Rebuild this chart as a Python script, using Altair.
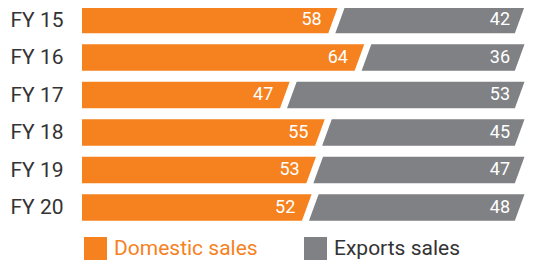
import altair as alt
import pandas as pd

years = ["FY 15", "FY 16", "FY 17", "FY 18", "FY 19", "FY 20"]
domestic = [58, 64, 47, 55, 53, 52]
exports = [42, 36, 53, 45, 47, 48]
series_names = ["Domestic sales", "Exports sales"]
colors = ["#F5821F", "#808184"]

HALF = 0.353   # half bar thickness (row units)
SLANT = 1.1    # horizontal slant half-offset (value units)
GAP = 0.8      # half gap between segments (value units)
END = 0.3

rows = []
for i, (d, e) in enumerate(zip(domestic, exports)):
    for yy, s in [(i + HALF, -SLANT), (i - HALF, SLANT)]:
        rows.append(dict(key=f"{i}d", y=yy, series=series_names[0], x0=0, x1=d - GAP + s))
        rows.append(dict(key=f"{i}e", y=yy, series=series_names[1], x0=d + GAP + s, x1=d + e - END + s))
shapes = pd.DataFrame(rows)

labels = pd.DataFrame({
    "row": list(range(len(years))),
    "year": years,
    "dom": domestic,
    "exp": exports,
    "total": [d + e for d, e in zip(domestic, exports)],
})

label_expr = "[" + ",".join(f"'{y}'" for y in years) + "][datum.value]"

yscale = alt.Scale(domain=[-0.32, 5.32], reverse=True, nice=False, zero=False)
xscale = alt.Scale(domain=[0, 100], nice=False, zero=False)

FONT = "Roboto"

area = alt.Chart(shapes).mark_area(orient="horizontal", interpolate="linear", opacity=1).encode(
    y=alt.Y("y:Q", scale=yscale, title=None,
            axis=alt.Axis(values=list(range(len(years))), labelExpr=label_expr,
                          domain=False, ticks=False, grid=False, labelPadding=19,
                          labelFontSize=21, labelColor="#333333", labelFont=FONT)),
    x=alt.X("x0:Q", scale=xscale, stack=None, axis=None),
    x2="x1:Q",
    detail="key:N",
    color=alt.Color("series:N",
                    scale=alt.Scale(domain=series_names, range=colors),
                    legend=alt.Legend(
                        title=None, orient="none", direction="horizontal",
                        legendX=2, legendY=229,
                        symbolType="square", symbolSize=529, symbolStrokeWidth=0,
                        symbolOpacity=1,
                        labelFontSize=21, labelFont=FONT, labelOffset=7,
                        columnPadding=46,
                        labelColor={"expr": "datum.label == 'Domestic sales' ? '#F5821F' : '#333333'"},
                    )),
)

dom_text = alt.Chart(labels).mark_text(align="right", baseline="middle", dx=-15,
                                       fontSize=18, font=FONT, color="white").encode(
    y=alt.Y("row:Q", scale=yscale),
    x=alt.X("dom:Q", scale=xscale),
    text="dom:Q",
)

exp_text = alt.Chart(labels).mark_text(align="right", baseline="middle", dx=-11,
                                       fontSize=18, font=FONT, color="white").encode(
    y=alt.Y("row:Q", scale=yscale),
    x=alt.X("total:Q", scale=xscale),
    text="exp:Q",
)

chart = alt.layer(area, dom_text, exp_text).properties(
    width=439, height=211.5,
    autosize=alt.AutoSizeParams(type="none"),
    padding={"left": 74, "top": 0, "right": 4, "bottom": 45},
).configure_view(stroke=None)

chart.save("out.html", embed_options={"renderer": "svg", "actions": False})
